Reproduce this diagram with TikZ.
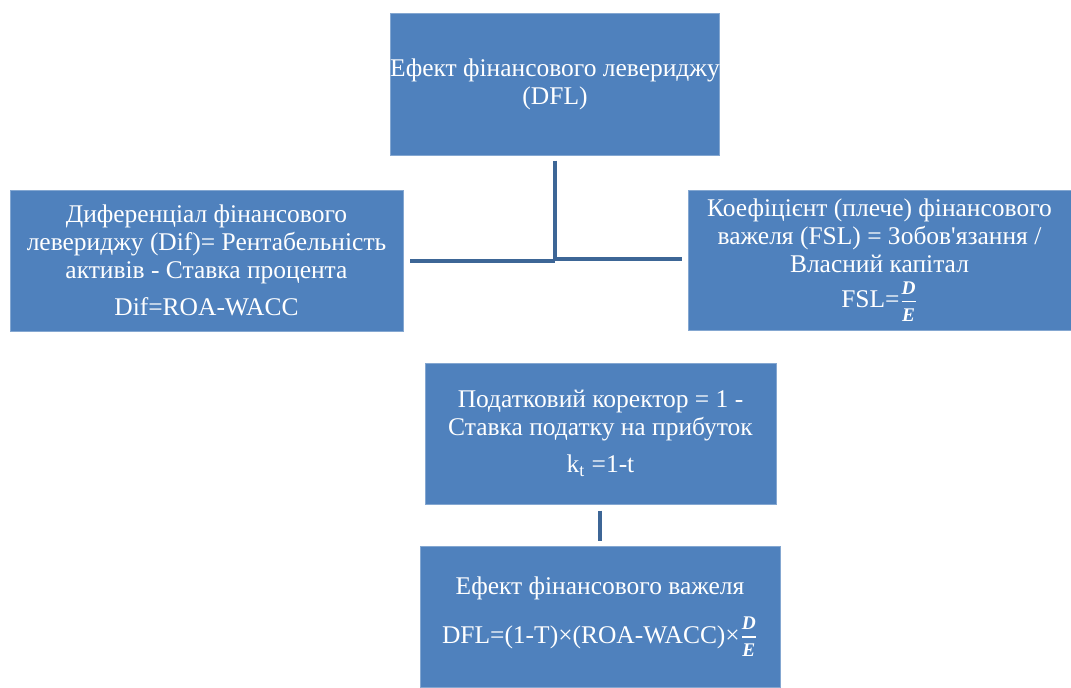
\documentclass[tikz,border=0pt]{standalone}
\usepackage{fontspec}
\setmainfont{Liberation Serif}
\newfontfamily\boxfont{Liberation Serif}
\usepackage{xcolor}
\definecolor{boxblue}{HTML}{4F81BD}
\definecolor{linkblue}{HTML}{3D6696}
\usepackage{tikz}
\usetikzlibrary{positioning, calc}

\newcommand{\fracpart}[1]{\text{\fontsize{11}{11}\selectfont\bfseries\itshape #1}}
\newcommand{\DE}{\ensuremath{\genfrac{}{}{0.7pt}{1}{\raisebox{2pt}{\fracpart{D}}}{\raisebox{-2.5pt}{\fracpart{E}}}}}
\usepackage{amsmath}

\begin{document}
\begin{tikzpicture}[
  x=0.02cm, y=-0.02cm,
  block/.style={rectangle, draw=boxblue!70!white, fill=boxblue, text=white, align=center,
    font=\boxfont\fontsize{14.5}{16}\selectfont, inner sep=0pt},
  link/.style={draw=linkblue, line width=2.3pt}
]
  \useasboundingbox (0,0) rectangle (1071,687);

  \node[block, minimum width=326*0.02cm, minimum height=142*0.02cm] (dfl) at (555,84)
    {Ефект фінансового левериджу\\(DFL)};
  \node[block, minimum width=393*0.02cm, minimum height=141*0.02cm] (dif) at (206.5,260.5)
    {Диференціал фінансового\\левериджу (Dif)= Рентабельність\\активів - Ставка процента\\[5pt]Dif=ROA-WACC};
  \node[block, minimum width=383*0.02cm, minimum height=140*0.02cm] (fsl) at (879.5,260)
    {Коефіцієнт (плече) фінансового\\важеля (FSL) = Зобов'язання /\\Власний капітал\\[4pt]FSL=\DE};
  \node[block, minimum width=351*0.02cm, minimum height=141*0.02cm] (tax) at (600.5,433.5)
    {Податковий коректор = 1 -\\Ставка податку на прибуток\\[5pt]k\textsubscript{t} =1-t};
  \node[block, minimum width=360*0.02cm, minimum height=141*0.02cm] (eff) at (600,616.5)
    {Ефект фінансового важеля\\[9pt]DFL=(1-T)×(ROA-WACC)×\DE};

  % connectors
  \coordinate (hub) at (dfl.south |- 0,261);
  \draw[link, shorten <=3pt] (dfl.south) -- (hub);
  \draw[link, shorten <=4pt] (dif.east |- hub) -- (hub);
  \draw[link, shorten >=3pt] ($(hub)+(0,-2)$) -- ($(fsl.west)+(0,-1)$);
  \draw[link, shorten <=3.5pt, shorten >=2.5pt] (tax.south -| 600,0) -- (eff.north -| 600,0);
\end{tikzpicture}
\end{document}
